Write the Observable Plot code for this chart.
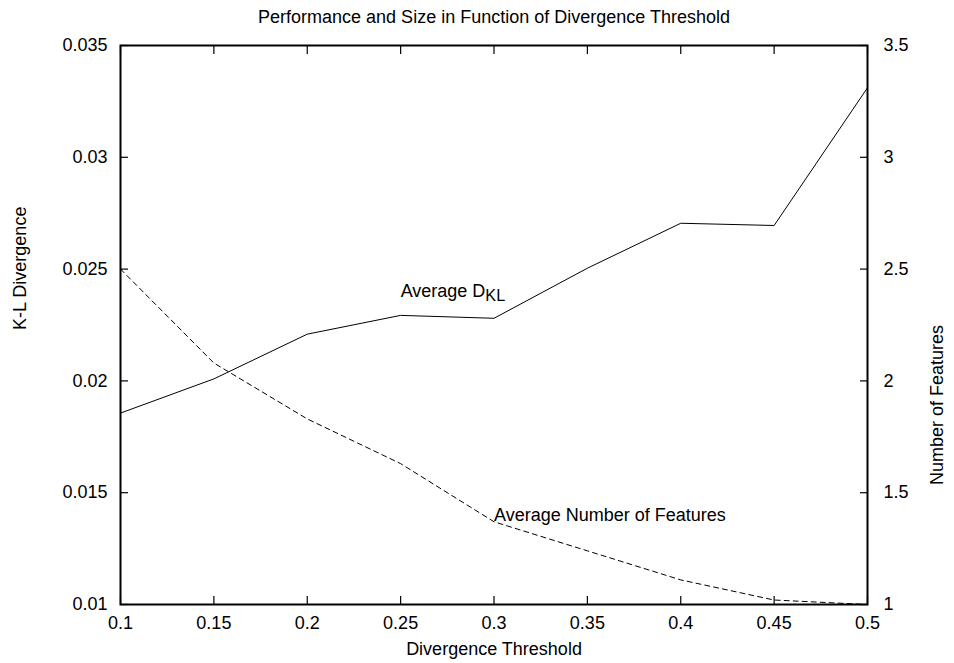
<!DOCTYPE html>
<html><head><meta charset="utf-8">
<script src="https://cdn.jsdelivr.net/npm/d3@7"></script>
<script src="https://cdn.jsdelivr.net/npm/@observablehq/plot@0.6"></script>
<style>
body{margin:0;background:#fff}
#chart svg{font-family:"Liberation Sans",Arial,Helvetica,sans-serif}
</style>
</head><body><div id="chart"></div>
<script>
// ---- data ----
const thresholds = [0.1, 0.15, 0.2, 0.25, 0.3, 0.35, 0.4, 0.45, 0.5];
const avgDKL = [0.01856, 0.02009, 0.02209, 0.02293, 0.02280, 0.02504, 0.02705, 0.02695, 0.03311];
const avgFeatures = [2.50, 2.08, 1.83, 1.63, 1.37, 1.24, 1.11, 1.02, 1.00];

const xTicks = [0.1, 0.15, 0.2, 0.25, 0.3, 0.35, 0.4, 0.45, 0.5];
const xTickLabels = ["0.1", "0.15", "0.2", "0.25", "0.3", "0.35", "0.4", "0.45", "0.5"];
const yTicks = [0.01, 0.015, 0.02, 0.025, 0.03, 0.035];
const yTickLabels = ["0.01", "0.015", "0.02", "0.025", "0.03", "0.035"];
const y2Ticks = [1, 1.5, 2, 2.5, 3, 3.5];
const y2TickLabels = ["1", "1.5", "2", "2.5", "3", "3.5"];

const xDomain = [0.1, 0.5];
const yDomain = [0.01, 0.035];
const y2Domain = [1, 3.5];

const titleText = "Performance and Size in Function of Divergence Threshold";
const xLabel = "Divergence Threshold";
const yLabel = "K-L Divergence";
const y2Label = "Number of Features";

// annotation anchors (data units)
const dklLabel = {x: 0.25, y: 0.02377, text: "Average D", sub: "KL"};
const featLabel = {x: 0.3, y2: 1.372, text: "Average Number of Features"};

// ---- build ----
const toY = f => yDomain[0] + (f - y2Domain[0]) * (yDomain[1] - yDomain[0]) / (y2Domain[1] - y2Domain[0]);
const dklData = thresholds.map((t, i) => ({t, v: avgDKL[i]}));
const featData = thresholds.map((t, i) => ({t, v: toY(avgFeatures[i])}));
const y2Mapped = y2Ticks.map(toY);

const FS = 18;
const chart = Plot.plot({
  width: 954,
  height: 663,
  marginLeft: 120,
  marginRight: 87,
  marginTop: 45,
  marginBottom: 59,
  style: {fontSize: FS + "px", fontFamily: "Liberation Sans, Arial, sans-serif", color: "#000", background: "#fff"},
  x: {domain: xDomain},
  y: {domain: yDomain},
  marks: [
    // inward ticks
    Plot.axisX(xTicks, {anchor: "bottom", tickSize: -8, text: null, label: null, strokeWidth: 1.2}),
    Plot.axisX(xTicks, {anchor: "top", tickSize: -8, text: null, label: null, strokeWidth: 1.2}),
    Plot.axisY(yTicks, {anchor: "left", tickSize: -8, text: null, label: null, strokeWidth: 1.2}),
    Plot.axisY(y2Mapped, {anchor: "right", tickSize: -8, text: null, label: null, strokeWidth: 1.2}),
    // tick labels
    Plot.axisX(xTicks, {anchor: "bottom", tickSize: 0, tickPadding: 12, label: null,
      tickFormat: d => xTickLabels[xTicks.indexOf(d)]}),
    Plot.axisY(yTicks, {anchor: "left", tickSize: 0, tickPadding: 13, label: null,
      tickFormat: d => yTickLabels[yTicks.indexOf(d)]}),
    Plot.axisY(y2Mapped, {anchor: "right", tickSize: 0, tickPadding: 16, label: null,
      tickFormat: d => y2TickLabels[y2Mapped.findIndex(v => Math.abs(v - d) < 1e-12)]}),
    Plot.frame({stroke: "#000", strokeWidth: 2}),
    // data lines
    Plot.line(dklData, {x: "t", y: "v", stroke: "#000", strokeWidth: 1}),
    Plot.line(featData, {x: "t", y: "v", stroke: "#000", strokeWidth: 1, strokeDasharray: "5,4"}),
    // annotations
    Plot.text([dklLabel], {x: "x", y: "y", text: "text", textAnchor: "start", lineAnchor: "bottom", fill: "#000"}),
    Plot.text([featLabel], {x: "x", y: d => toY(d.y2), text: "text", textAnchor: "start", lineAnchor: "bottom", fill: "#000"}),
    // titles
    Plot.text([titleText], {frameAnchor: "top", dy: -28, lineAnchor: "middle", fill: "#000"}),
    Plot.text([xLabel], {frameAnchor: "bottom", dy: 45, lineAnchor: "middle", fill: "#000"}),
    Plot.text([yLabel], {frameAnchor: "left", dx: -100, dy: 5, rotate: -90, lineAnchor: "middle", fill: "#000"}),
    Plot.text([y2Label], {frameAnchor: "right", dx: 70, rotate: -90, lineAnchor: "middle", fill: "#000"})
  ]
});
document.getElementById("chart").appendChild(chart);

// subscript for D_KL
d3.select(chart).selectAll("text").filter(function() { return this.textContent === dklLabel.text; })
  .each(function() {
    d3.select(this).append("tspan").attr("dy", 4).attr("font-size", "0.9em").text(dklLabel.sub);
  });
</script>
</body></html>
